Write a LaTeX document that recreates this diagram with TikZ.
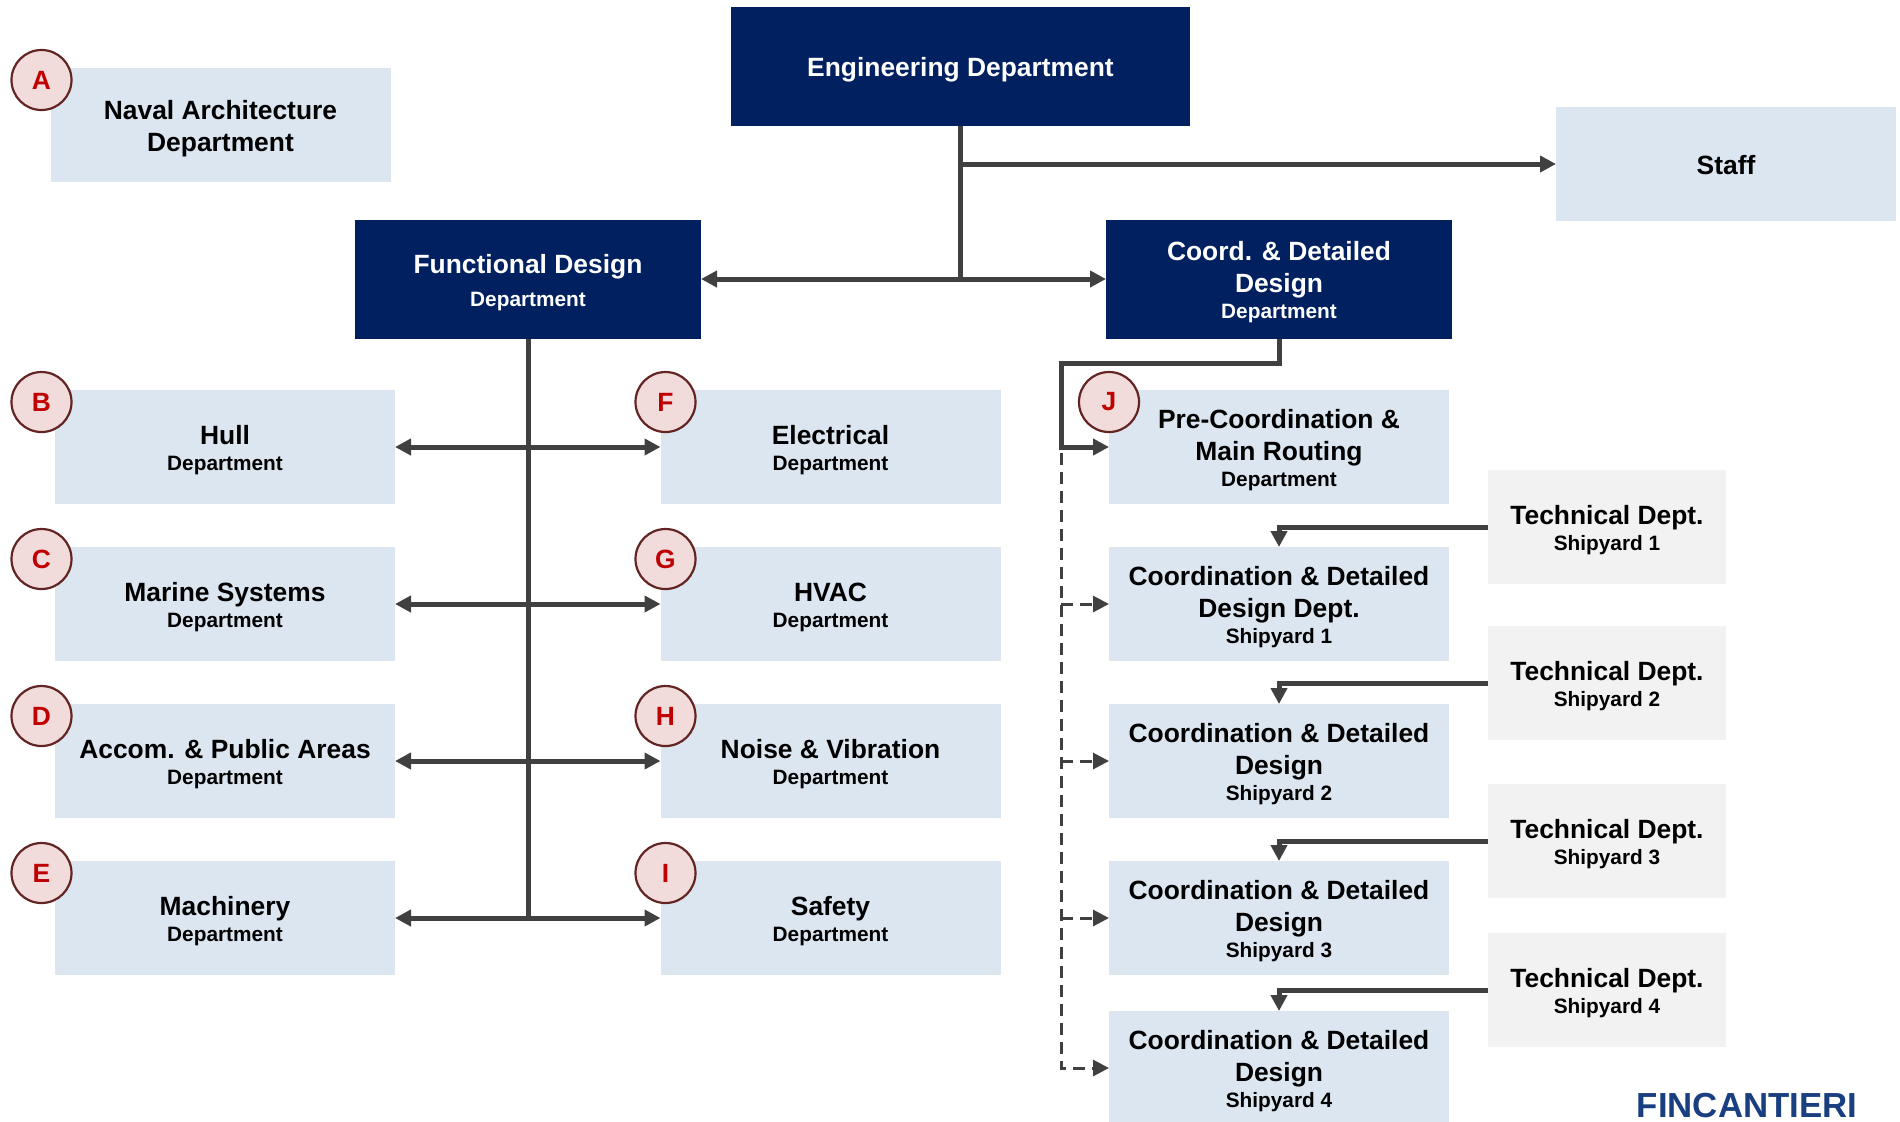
\documentclass[tikz,border=0pt]{standalone}
\usepackage{fontspec}
\setmainfont{Liberation Sans}
\usepackage{tikz}
\usetikzlibrary{arrows.meta}
\definecolor{navy}{HTML}{002060}
\definecolor{paleblue}{HTML}{DCE6F1}
\definecolor{palegray}{HTML}{F2F2F2}
\definecolor{linegray}{HTML}{404040}
\definecolor{badgefill}{HTML}{F2DCDB}
\definecolor{badgeline}{HTML}{632523}
\definecolor{badgetext}{HTML}{C00000}
\definecolor{logoblue}{HTML}{1A3F80}
\newcommand{\mainf}{\fontsize{13.2}{16}\selectfont\bfseries}
\newcommand{\subf}{\fontsize{10.4}{13}\selectfont\bfseries}
\newcommand{\subline}[1]{\\[-3pt]{\subf #1}}
\newcommand{\dept}[5]{\node[#1] (#2) at (#3,#4) {\rule[-3pt]{0pt}{16pt}#5};}
\newcommand{\badge}[3]{\node[badgenode] (badge#3) at (#1,#2) {#3};}
\tikzset{
    deptbox/.style={inner sep=0pt, outer sep=0pt, align=center, font=\mainf, minimum width=170pt, minimum height=57pt},
    bluebox/.style={deptbox, fill=paleblue},
    graybox/.style={deptbox, fill=palegray, minimum width=119pt},
    navybox/.style={deptbox, fill=navy, text=white, minimum width=173pt, minimum height=59.5pt},
    badgenode/.style={circle, draw=badgeline, line width=1.1pt, fill=badgefill, text=badgetext, font=\mainf, inner sep=0pt, minimum size=30pt},
    link/.style={draw=linegray, line width=2.5pt, >={Triangle[length=8pt,width=8pt]}},
    dashlink/.style={draw=linegray, line width=1.5pt, dash pattern=on 6pt off 3.5pt, >={Triangle[length=8pt,width=8pt]}}
}

\begin{document}
\begin{tikzpicture}[x=0.5pt, y=-0.5pt]
        \clip[use as bounding box] (0,0) rectangle (1900,1121);
        % top row
        \dept{navybox, minimum width=229.5pt}{eng}{960.5}{66.5}{Engineering Department}
        \dept{bluebox}{naval}{220.5}{125}{Naval Architecture\\Department}
        \dept{bluebox}{staff}{1726}{164}{Staff}
        \dept{navybox}{func}{528}{279}{Functional Design\\[0.4pt]{\subf Department}}
        \dept{navybox}{coord}{1279}{279}{Coord. \& Detailed\\Design\subline{Department}}
        % left column
        \dept{bluebox}{hull}{225}{447}{Hull\subline{Department}}
        \dept{bluebox}{marine}{225}{604}{Marine Systems\subline{Department}}
        \dept{bluebox}{accom}{225}{761}{Accom. \& Public Areas\subline{Department}}
        \dept{bluebox}{mach}{225}{918}{Machinery\subline{Department}}
        % middle column
        \dept{bluebox}{elec}{830.5}{447}{Electrical\subline{Department}}
        \dept{bluebox}{hvac}{830.5}{604}{HVAC\subline{Department}}
        \dept{bluebox}{noise}{830.5}{761}{Noise \& Vibration\subline{Department}}
        \dept{bluebox}{safety}{830.5}{918}{Safety\subline{Department}}
        % right column
        \dept{bluebox}{precoord}{1279}{447}{Pre-Coordination \&\\Main Routing\subline{Department}}
        \dept{bluebox}{cdone}{1279}{604}{Coordination \& Detailed\\Design Dept.\subline{Shipyard 1}}
        \dept{bluebox}{cdtwo}{1279}{761}{Coordination \& Detailed\\Design\subline{Shipyard 2}}
        \dept{bluebox}{cdthree}{1279}{918}{Coordination \& Detailed\\Design\subline{Shipyard 3}}
        \dept{bluebox}{cdfour}{1279}{1068}{Coordination \& Detailed\\Design\subline{Shipyard 4}}
        % technical depts
        \dept{graybox}{techone}{1607}{527}{Technical Dept.\subline{Shipyard 1}}
        \dept{graybox}{techtwo}{1607}{683}{Technical Dept.\subline{Shipyard 2}}
        \dept{graybox}{techthree}{1607}{841}{Technical Dept.\subline{Shipyard 3}}
        \dept{graybox}{techfour}{1607}{990}{Technical Dept.\subline{Shipyard 4}}
        % engineering links
        \draw[link] (eng.south) -- (eng.south |- func.east);
        \draw[link,->] (eng.south |- staff.west) -- (staff.west);
        \draw[link,<->] (func.east) -- (coord.west);
        % functional design links
        \draw[link] (func.south) -- (func.south |- mach.east);
        \draw[link,<->] (hull.east) -- (elec.west);
        \draw[link,<->] (marine.east) -- (hvac.west);
        \draw[link,<->] (accom.east) -- (noise.west);
        \draw[link,<->] (mach.east) -- (safety.west);
        % detailed design links
        \coordinate (elbow) at (1061,363);
        \coordinate (dashtop) at (1061,453);
        \draw[dashlink,->] (dashtop) |- (cdfour.west);
        \draw[dashlink,->] (cdone.west -| dashtop) -- (cdone.west);
        \draw[dashlink,->] (cdtwo.west -| dashtop) -- (cdtwo.west);
        \draw[dashlink,->] (cdthree.west -| dashtop) -- (cdthree.west);
        \draw[link,->] (coord.south) |- (elbow) |- (precoord.west);
        % technical links
        \draw[link,->] (techone.west) -| (cdone.north);
        \draw[link,->] (techtwo.west) -| (cdtwo.north);
        \draw[link,->] (techthree.west) -| (cdthree.north);
        \draw[link,->] (techfour.west) -| (cdfour.north);
        % badges
        \badge{41.5}{80}{A}
        \badge{41.5}{402}{B}
        \badge{41.5}{559}{C}
        \badge{41.5}{716}{D}
        \badge{41.5}{873}{E}
        \badge{665.5}{402}{F}
        \badge{665.5}{559}{G}
        \badge{665.5}{716}{H}
        \badge{665.5}{873}{I}
        \badge{1109}{402}{J}
        % logo
        \node[text=logoblue, inner sep=0pt, font=\fontsize{17.4}{20}\selectfont\bfseries] (logo) at (1747,1105) {FINCANTIERI};
    \end{tikzpicture}
\end{document}
